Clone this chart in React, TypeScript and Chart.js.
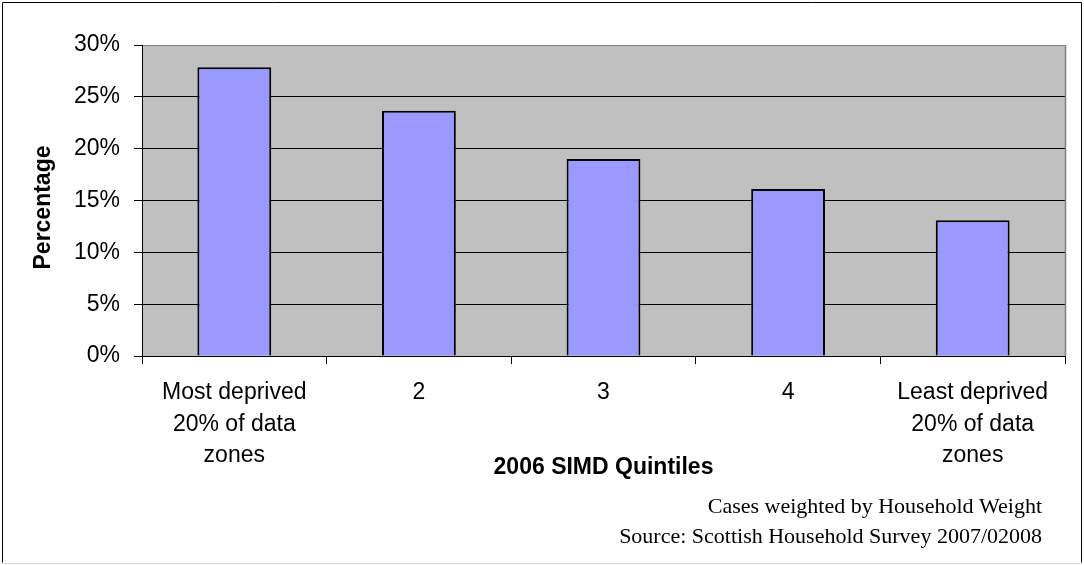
import React, { useEffect, useRef } from "react";
import { Chart, registerables } from "chart.js";

Chart.register(...registerables);

const categories: (string | string[])[] = [
  ["Most deprived", "20% of data", "zones"],
  "2",
  "3",
  "4",
  ["Least deprived", "20% of data", "zones"],
];
const percentages: number[] = [27.85, 23.65, 19.0, 16.1, 13.1];
const yTickMax = 30;
const yTickStep = 5;
const yTitle = "Percentage";
const xTitle = "2006 SIMD Quintiles";
const footerLines: string[] = [
  "Cases weighted by Household Weight",
  "Source: Scottish Household Survey 2007/02008",
];

const SANS = '"Liberation Sans", Arial, sans-serif';
const SERIF = '"Liberation Serif", "Times New Roman", serif';

const decorPlugin = {
  id: "decor",
  beforeDraw(chart: any) {
    const { ctx, chartArea } = chart;
    ctx.save();
    ctx.fillStyle = "#ffffff";
    ctx.fillRect(0, 0, chart.width, chart.height);
    ctx.fillStyle = "#C0C0C0";
    ctx.fillRect(
      chartArea.left,
      chartArea.top,
      chartArea.right - chartArea.left,
      chartArea.bottom - chartArea.top
    );
    ctx.restore();
  },
  afterDraw(chart: any) {
    const { ctx, chartArea } = chart;
    ctx.save();
    // plot area right border (gray)
    ctx.strokeStyle = "#808080";
    ctx.lineWidth = 1.5;
    ctx.beginPath();
    ctx.moveTo(chartArea.right + 0.5, chartArea.top);
    ctx.lineTo(chartArea.right + 0.5, chartArea.bottom);
    ctx.stroke();
    // outer frame
    ctx.lineWidth = 1;
    ctx.strokeStyle = "#000000";
    ctx.beginPath();
    ctx.moveTo(2.5, chart.height - 2.5);
    ctx.lineTo(2.5, 2.5);
    ctx.lineTo(chart.width - 2.5, 2.5);
    ctx.lineTo(chart.width - 2.5, chart.height - 2.5);
    ctx.stroke();
    ctx.strokeStyle = "#d8d8d8";
    ctx.beginPath();
    ctx.moveTo(2.5, chart.height - 1.5);
    ctx.lineTo(chart.width - 2.5, chart.height - 1.5);
    ctx.stroke();
    // y axis title
    ctx.fillStyle = "#000000";
    ctx.save();
    ctx.translate(44, (chartArea.top + chartArea.bottom) / 2 + 7);
    ctx.rotate(-Math.PI / 2);
    ctx.font = `bold 23px ${SANS}`;
    ctx.textAlign = "center";
    ctx.textBaseline = "middle";
    ctx.fillText(yTitle, 0, 0);
    ctx.restore();
    // footer notes
    ctx.font = `22px ${SERIF}`;
    ctx.textAlign = "right";
    ctx.textBaseline = "alphabetic";
    footerLines.forEach((line, i) => {
      ctx.fillText(line, 1042, 513 + i * 30);
    });
    ctx.restore();
  },
};

export default function App() {
  const canvasRef = useRef<HTMLCanvasElement | null>(null);

  useEffect(() => {
    if (!canvasRef.current) return;
    const chart = new Chart(canvasRef.current, {
      type: "bar",
      data: {
        labels: categories,
        datasets: [
          {
            data: percentages,
            backgroundColor: "#9999FF",
            borderColor: "#000000",
            borderWidth: 2,
            barPercentage: 0.4,
            categoryPercentage: 1,
          },
        ],
      },
      options: {
        responsive: false,
        animation: false,
        devicePixelRatio: 1,
        layout: { padding: { top: 45, right: 19, left: 0, bottom: 0 } },
        plugins: {
          legend: { display: false },
          tooltip: { enabled: false },
        },
        scales: {
          x: {
            offset: true,
            afterFit: (scale: any) => {
              scale.height = 209;
            },
            grid: {
              offset: true,
              drawOnChartArea: false,
              drawTicks: true,
              tickLength: 8,
              color: "#000000",
              tickColor: "#000000",
            },
            border: { display: true, color: "#000000", width: 1 },
            ticks: {
              color: "#000000",
              padding: 13,
              maxRotation: 0,
              autoSkip: false,
              font: { family: SANS, size: 23, lineHeight: 31.5 / 23 },
            },
            title: {
              display: true,
              text: xTitle,
              color: "#000000",
              font: { family: SANS, size: 23, weight: "bold" },
              padding: { top: 0, bottom: 84 },
            },
          },
          y: {
            min: 0,
            max: yTickMax,
            afterFit: (scale: any) => {
              scale.width = 142;
            },
            grid: {
              color: (ctx: any) =>
                ctx.tick && ctx.tick.value === yTickMax ? "#808080" : "#000000",
              tickColor: "#000000",
              lineWidth: 1,
              drawTicks: true,
              tickLength: 8,
            },
            border: { display: true, color: "#000000", width: 1 },
            ticks: {
              stepSize: yTickStep,
              color: "#000000",
              padding: 14,
              font: { family: SANS, size: 23 },
              callback: (v: any) => `${v}%`,
            },
          },
        },
      },
      plugins: [decorPlugin],
    });
    return () => chart.destroy();
  }, []);

  return (
    <div
      style={{
        position: "absolute",
        left: 0,
        top: 0,
        width: 1084,
        height: 565,
        background: "#ffffff",
      }}
    >
      <canvas ref={canvasRef} width={1084} height={565} style={{ display: "block" }} />
    </div>
  );
}
